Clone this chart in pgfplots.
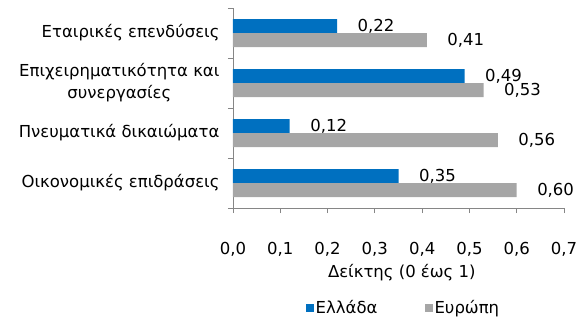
\documentclass[border=0pt]{standalone}
\usepackage{pgfplots}
\pgfplotsset{compat=1.18}
\usepackage{fontspec}
\setmainfont{DejaVu Sans}
\definecolor{grblue}{HTML}{0070C0}
\definecolor{eugray}{HTML}{A6A6A6}
\definecolor{axgray}{HTML}{868686}
\newcommand\f{\fontsize{16.5}{22}\selectfont}
\begin{document}
\begin{tikzpicture}
\useasboundingbox (-233pt,-114pt) rectangle (352pt,208pt);
\begin{axis}[
  at={(0pt,0pt)}, anchor=south west,
  scale only axis, width=331pt, height=200pt,
  xbar, bar width=14pt,
  xmin=0, xmax=0.7,
  ymin=-0.5, ymax=3.5,
  axis x line*=bottom, axis y line*=left,
  axis line style={draw=axgray, line width=0.8pt},
  tick align=outside,
  major tick length=5pt,
  tick style={draw=axgray, line width=0.8pt},
  xtick={0,0.1,0.2,0.3,0.4,0.5,0.6,0.7},
  xticklabel style={font=\f, yshift=-26pt, /pgf/number format/.cd, fixed, fixed zerofill, precision=1, use comma, assume math mode=true},
  ytick={-0.5,0.5,1.5,2.5,3.5},
  yticklabels={},
  extra y ticks={0,1,2,3},
  extra y tick labels={Οικονομικές επιδράσεις, Πνευματικά δικαιώματα, {Επιχειρηματικότητα και\\συνεργασίες}, Εταιρικές επενδύσεις},
  extra y tick style={major tick length=0pt, yticklabel style={font=\f, align=center, xshift=-10pt}},
  xlabel={Δείκτης (0 έως 1)},
  xlabel style={font=\f, at={(axis description cs:0.51,-0.325)}, anchor=center},
  point meta=x,
  nodes near coords={\pgfmathprintnumber[fixed, fixed zerofill, precision=2, use comma, assume math mode=true]{\pgfplotspointmeta}},
  every node near coord/.append style={font=\f, anchor=west, xshift=17pt, black},
  legend style={at={(0.515,-0.5)}, anchor=center, draw=none, legend columns=2, font=\f,
    /tikz/every even column/.append style={column sep=45pt}},
  legend image code/.code={\fill[#1] (0pt,-4pt) rectangle (8pt,4pt);},
]
\addplot[fill=grblue, draw=none, bar shift=7pt] coordinates {(0.35,0) (0.12,1) (0.49,2) (0.22,3)};
\addplot[fill=eugray, draw=none, bar shift=-7pt] coordinates {(0.60,0) (0.56,1) (0.53,2) (0.41,3)};
\legend{Ελλάδα, Ευρώπη}
\end{axis}
\end{tikzpicture}
\end{document}
